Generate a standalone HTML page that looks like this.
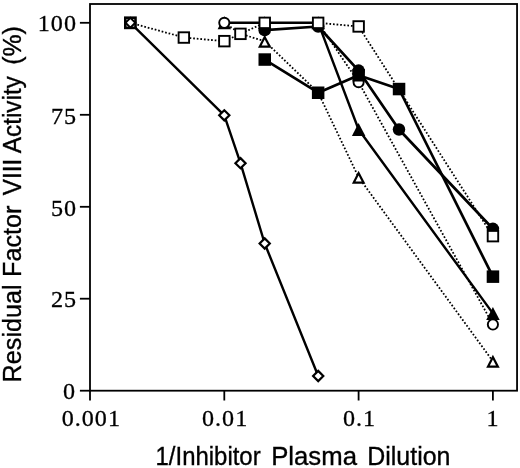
<!DOCTYPE html>
<html><head><meta charset="utf-8"><title>Residual Factor VIII Activity</title>
<style>
html,body{margin:0;padding:0;background:#fff;}
body{width:520px;height:468px;overflow:hidden;}
svg{display:block;}
.frame{fill:none;stroke:#000;stroke-width:1.8;}
.tick{stroke:#000;stroke-width:1.8;}
.tl{font-family:"Liberation Serif",serif;font-size:23.2px;letter-spacing:0.96px;fill:#000;stroke:#000;stroke-width:0.3;}
.ttl{font-family:"Liberation Sans",sans-serif;font-size:25.48px;fill:#000;stroke:#000;stroke-width:0.35;}
.sol{fill:none;stroke:#000;stroke-width:2.4;stroke-linejoin:round;}
.thick{stroke-width:2.7;}
.dot{fill:none;stroke:#000;stroke-width:1.8;stroke-dasharray:1.7 1.9;}
.m{stroke:#000;stroke-width:1.9;}
.o{fill:#fff;}
.f{fill:#000;stroke:none;}
</style></head><body>
<svg width="520" height="468" viewBox="0 0 520 468">
<rect width="520" height="468" fill="#fff"/>
<rect x="90.0" y="4.0" width="427.04999999999995" height="386.7" class="frame"/>
<line x1="79.9" x2="90.0" y1="390.7" y2="390.7" class="tick"/>
<text transform="translate(76.1,398.7) scale(1.04,1)" class="tl" text-anchor="end">0</text>
<line x1="79.9" x2="90.0" y1="298.7" y2="298.7" class="tick"/>
<text transform="translate(77.0,306.9) scale(1.04,1)" class="tl" text-anchor="end">25</text>
<line x1="79.9" x2="90.0" y1="206.8" y2="206.8" class="tick"/>
<text transform="translate(77.0,215.5) scale(1.04,1)" class="tl" text-anchor="end">50</text>
<line x1="79.9" x2="90.0" y1="114.8" y2="114.8" class="tick"/>
<text transform="translate(77.0,123.5) scale(1.04,1)" class="tl" text-anchor="end">75</text>
<line x1="79.9" x2="90.0" y1="22.8" y2="22.8" class="tick"/>
<text transform="translate(77.0,31.0) scale(1.04,1)" class="tl" text-anchor="end">100</text>
<line y1="390.7" y2="400.5" x1="90.0" x2="90.0" class="tick"/>
<text transform="translate(61.7,426.1) scale(1.04,1)" class="tl">0.001</text>
<line y1="390.7" y2="400.5" x1="224.3" x2="224.3" class="tick"/>
<text transform="translate(202.0,426.1) scale(1.04,1)" class="tl">0.01</text>
<line y1="390.7" y2="400.5" x1="358.6" x2="358.6" class="tick"/>
<text transform="translate(342.9,426.1) scale(1.04,1)" class="tl">0.1</text>
<line y1="390.7" y2="400.5" x1="492.9" x2="492.9" class="tick"/>
<text transform="translate(486.6,426.1) scale(1.04,1)" class="tl">1</text>
<text transform="translate(155.52,465.0) scale(0.9397,1)" class="ttl">1/Inhibitor</text>
<text transform="translate(271.18,465.0) scale(1.0096,1)" class="ttl">Plasma</text>
<text transform="translate(367.24,465.0) scale(0.9797,1)" class="ttl">Dilution</text>
<text transform="translate(20.7,382.38) rotate(-90) scale(0.9885,1)" class="ttl">Residual</text>
<text transform="translate(20.7,276.98) rotate(-90) scale(0.9878,1)" class="ttl">Factor</text>
<text transform="translate(20.7,195.14) rotate(-90) scale(0.9493,1)" class="ttl">VIII</text>
<text transform="translate(20.7,153.20) rotate(-90) scale(0.9553,1)" class="ttl">Activity</text>
<text transform="translate(20.7,64.87) rotate(-90) scale(0.9781,1)" class="ttl">(%)</text>
<polyline class="dot" points="224.3,22.8 240.5,33.8 264.7,41.2 318.2,92.7 358.6,177.3 492.9,361.3"/>
<polyline class="dot" points="224.3,22.8 264.7,22.8 318.2,22.8 358.6,82.2 492.9,324.5"/>
<polyline class="dot" points="130.4,22.8 183.9,37.5 224.3,41.2 240.5,33.8 264.7,22.8 318.2,22.8 358.6,26.5 492.9,236.2"/>
<polyline class="sol" points="224.3,22.8 264.7,22.8 318.2,22.8 358.6,129.5 492.9,313.4"/>
<polyline class="sol thick" points="264.7,59.6 318.2,92.7 358.6,75.2 399.0,89.0 492.9,276.7"/>
<polyline class="sol thick" points="264.7,30.2 318.2,26.5 358.6,70.6 399.0,129.5 492.9,228.8"/>
<polyline class="sol" points="130.4,22.8 224.3,115.3 240.5,163.2 264.7,243.5 318.2,376.0"/>
<polygon points="264.7,34.7 271.5,47.7 258.0,47.7" class="f"/>
<polygon points="264.7,39.5 267.9,45.5 261.6,45.5" fill="#fff"/>
<polygon points="358.6,170.8 365.4,183.8 351.9,183.8" class="f"/>
<polygon points="358.6,175.6 361.7,181.6 355.5,181.6" fill="#fff"/>
<polygon points="492.9,354.8 499.7,367.8 486.2,367.8" class="f"/>
<polygon points="492.9,359.5 496.0,365.6 489.8,365.6" fill="#fff"/>
<circle cx="358.6" cy="82.2" r="5.1" class="m o"/>
<circle cx="492.9" cy="324.5" r="5.1" class="m o"/>
<polygon points="224.3,16.3 231.1,29.3 217.6,29.3" class="f"/>
<polygon points="264.7,16.3 271.5,29.3 258.0,29.3" class="f"/>
<polygon points="318.2,16.3 324.9,29.3 311.4,29.3" class="f"/>
<polygon points="358.6,123.0 365.4,136.0 351.9,136.0" class="f"/>
<polygon points="492.9,306.9 499.7,319.9 486.2,319.9" class="f"/>
<circle cx="224.3" cy="22.8" r="5.1" class="m o"/>
<rect x="258.5" y="53.3" width="12.5" height="12.5" class="m f"/>
<rect x="311.9" y="86.5" width="12.5" height="12.5" class="m f"/>
<rect x="352.4" y="69.0" width="12.5" height="12.5" class="m f"/>
<rect x="392.8" y="82.8" width="12.5" height="12.5" class="m f"/>
<rect x="486.7" y="270.4" width="12.5" height="12.5" class="m f"/>
<circle cx="264.7" cy="30.2" r="6.25" class="m f"/>
<circle cx="318.2" cy="26.5" r="6.25" class="m f"/>
<circle cx="358.6" cy="70.6" r="6.25" class="m f"/>
<circle cx="399.0" cy="129.5" r="6.25" class="m f"/>
<circle cx="492.9" cy="228.8" r="6.25" class="m f"/>
<rect x="125.3" y="17.7" width="10.2" height="10.2" class="m o" style="stroke-width:2.6"/>
<rect x="178.6" y="32.3" width="10.5" height="10.5" class="m o"/>
<rect x="219.1" y="35.9" width="10.5" height="10.5" class="m o"/>
<rect x="235.2" y="28.6" width="10.5" height="10.5" class="m o"/>
<rect x="259.5" y="17.6" width="10.5" height="10.5" class="m o"/>
<rect x="312.9" y="17.6" width="10.5" height="10.5" class="m o"/>
<rect x="353.4" y="21.2" width="10.5" height="10.5" class="m o"/>
<rect x="487.7" y="230.9" width="10.5" height="10.5" class="m o"/>
<polygon points="130.4,17.9 135.3,22.8 130.4,27.7 125.5,22.8" class="m o" style="stroke-width:2.0"/>
<polygon points="224.3,110.2 229.4,115.3 224.3,120.4 219.2,115.3" class="m o" style="stroke-width:2.2"/>
<polygon points="240.5,158.1 245.6,163.2 240.5,168.3 235.4,163.2" class="m o" style="stroke-width:2.2"/>
<polygon points="264.7,238.4 269.8,243.5 264.7,248.6 259.6,243.5" class="m o" style="stroke-width:2.2"/>
<polygon points="318.2,370.9 323.3,376.0 318.2,381.1 313.1,376.0" class="m o" style="stroke-width:2.2"/>
</svg>
</body></html>
